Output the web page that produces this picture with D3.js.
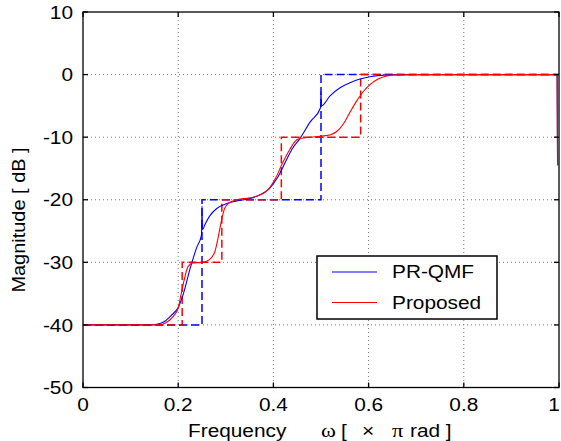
<!DOCTYPE html>
<html>
<head>
<meta charset="utf-8">
<script src="https://cdn.jsdelivr.net/npm/d3@7"></script>
<style>
  body { margin: 0; background: #fff; }
  text { font-family: "Liberation Sans", Arial, sans-serif; fill: #000; }
</style>
</head>
<body>
<svg id="chart" width="561" height="441"></svg>
<script>
// tick values / labels
const xTicks = [0, 0.2, 0.4, 0.6, 0.8, 1];
const xTickLabels = ["0", "0.2", "0.4", "0.6", "0.8", "1"];
const yTicks = [10, 0, -10, -20, -30, -40, -50];
const seriesNames = ["PR-QMF", "Proposed"];

// PR-QMF magnitude response
const qmfFreq = [0, 0.14, 0.155, 0.17, 0.185, 0.2, 0.211, 0.225, 0.239, 0.249, 0.25, 0.251,
  0.256, 0.267, 0.281, 0.302, 0.323, 0.351, 0.372, 0.393, 0.41, 0.425, 0.44, 0.456, 0.477,
  0.499, 0.5, 0.501, 0.519, 0.54, 0.561, 0.582, 0.603, 0.625, 0.65, 0.7, 0.996, 0.997];
const qmfMag = [-40, -40, -39.9, -39.5, -38.5, -37.2, -35, -31, -27.6, -25.6, -21, -24.8,
  -24, -22.5, -21.4, -20.6, -20.2, -19.8, -19.2, -18.1, -16.3, -14, -11.8, -10.2, -7.6,
  -5.3, -2.7, -5.0, -3.4, -2.1, -1.3, -0.7, -0.35, -0.12, -0.02, 0, 0, -14.5];

// Proposed magnitude response
const propFreq = [0, 0.16, 0.175, 0.19, 0.2, 0.205, 0.212, 0.22, 0.23, 0.25, 0.265, 0.277,
  0.284, 0.291, 0.298, 0.309, 0.323, 0.35, 0.37, 0.39, 0.405, 0.42, 0.435, 0.445, 0.455,
  0.48, 0.505, 0.52, 0.533, 0.547, 0.561, 0.575, 0.589, 0.603, 0.62, 0.64, 0.66, 0.7, 0.996, 0.997];
const propMag = [-40, -40, -39.6, -38.6, -37.3, -35.5, -33, -30.8, -30.1, -30, -29.6, -28.3,
  -26, -23.3, -21.3, -20.4, -20, -19.7, -19.3, -18.3, -16.5, -14, -11.9, -10.7, -10.2,
  -10, -9.8, -9.6, -9.1, -7.9, -6, -4.2, -2.7, -1.6, -0.7, -0.2, -0.04, 0, 0, -14.5];

// ideal (staircase) specs, dashed
const qmfSpecFreq = [0, 0.25, 0.25, 0.5, 0.5, 1];
const qmfSpecMag = [-40, -40, -20, -20, 0, 0];
const propSpecFreq = [0, 5/24, 5/24, 7/24, 7/24, 10/24, 10/24, 14/24, 14/24, 1];
const propSpecMag = [-40, -40, -30, -30, -20, -20, -10, -10, 0, 0];

const svg = d3.select("#chart");
const plotL = 83, plotR = 559, plotT = 12, plotB = 387.5;
const sx = 1.19;   // text in the picture is a bit wide

const x = d3.scaleLinear().domain([0, 1]).range([plotL, plotR]);
const y = d3.scaleLinear().domain([-50, 10]).range([plotB, plotT]);

function zip(a, b) { return a.map((v, i) => [v, b[i]]); }

// grid
const grid = svg.append("g").attr("stroke", "#777").attr("stroke-width", 1)
  .attr("stroke-dasharray", "1,3");
grid.selectAll("line.gx").data(xTicks.slice(1, -1)).enter().append("line")
  .attr("x1", d => x(d)).attr("x2", d => x(d)).attr("y1", plotT).attr("y2", plotB);
grid.selectAll("line.gy").data(yTicks.slice(1, -1)).enter().append("line")
  .attr("y1", d => y(d)).attr("y2", d => y(d)).attr("x1", plotL).attr("x2", plotR);

const plot = svg.append("g");
const lineLin = d3.line().x(d => x(d[0])).y(d => y(d[1]));
const lineSmooth = d3.line().x(d => x(d[0])).y(d => y(d[1])).curve(d3.curveMonotoneX);

plot.append("path").datum(zip(qmfSpecFreq, qmfSpecMag)).attr("d", lineLin)
  .attr("fill", "none").attr("stroke", "#0000ff").attr("stroke-width", 1.5)
  .attr("stroke-dasharray", "8,4");
plot.append("path").datum(zip(propSpecFreq, propSpecMag)).attr("d", lineLin)
  .attr("fill", "none").attr("stroke", "#ff0000").attr("stroke-width", 1.5)
  .attr("stroke-dasharray", "8,4");
plot.append("path").datum(zip(qmfFreq, qmfMag)).attr("d", lineSmooth)
  .attr("fill", "none").attr("stroke", "#0000ff").attr("stroke-width", 1.1);
plot.append("path").datum(zip(propFreq, propMag)).attr("d", lineSmooth)
  .attr("fill", "none").attr("stroke", "#ff0000").attr("stroke-width", 1.1);

// frame + inward ticks on all sides
const axes = svg.append("g").attr("stroke", "#000").attr("stroke-width", 1.3);
axes.append("rect").attr("x", plotL).attr("y", plotT)
  .attr("width", plotR - plotL).attr("height", plotB - plotT).attr("fill", "none");
xTicks.forEach(t => {
  axes.append("line").attr("x1", x(t)).attr("x2", x(t)).attr("y1", plotB).attr("y2", plotB - 5);
  axes.append("line").attr("x1", x(t)).attr("x2", x(t)).attr("y1", plotT).attr("y2", plotT + 5);
});
yTicks.forEach(t => {
  axes.append("line").attr("y1", y(t)).attr("y2", y(t)).attr("x1", plotL).attr("x2", plotL + 5);
  axes.append("line").attr("y1", y(t)).attr("y2", y(t)).attr("x1", plotR).attr("x2", plotR - 5);
});

function label(px, py, str, anchor, opts) {
  opts = opts || {};
  const g = svg.append("g")
    .attr("transform", `translate(${px},${py})` + (opts.rotate ? ` rotate(${opts.rotate})` : "") + ` scale(${opts.sx || sx},1)`);
  const t = g.append("text").attr("text-anchor", anchor)
    .style("font-size", (opts.size || 17.5) + "px").text(str);
  if (opts.family) t.style("font-family", opts.family);
  if (opts.dy) t.attr("dy", opts.dy);
  return t;
}

// tick labels (the last one sits at the window edge, as in the original)
xTicks.forEach((t, i) => {
  const px = i === xTicks.length - 1 ? Math.min(x(t), 554) : x(t);
  label(px, 410.5, xTickLabels[i], "middle");
});
yTicks.forEach(t => label(73, y(t), String(t), "end", { dy: "0.38em" }));

// axis titles
label(25, 220, "Magnitude [ dB ]", "middle", { rotate: -90, sx: 1.14 });
label(188, 437, "Frequency", "start");
label(321, 437, "\u03c9", "start", { family: "'Liberation Serif', 'DejaVu Serif', serif", size: 19 });
label(341, 437, "[", "start");
label(362, 437, "\u00d7", "start");
label(392, 437, "\u03c0", "start", { family: "'Liberation Serif', 'DejaVu Serif', serif", size: 19 });
label(410, 437, "rad ]", "start");

// legend
const legend = svg.append("g");
legend.append("rect").attr("x", 317).attr("y", 256).attr("width", 180).attr("height", 63)
  .attr("fill", "#fff").attr("stroke", "#000").attr("stroke-width", 1.5);
const legendColors = ["#0000ff", "#ff0000"];
seriesNames.forEach((name, i) => {
  const ly = 272 + i * 30.5;
  legend.append("line").attr("x1", 332).attr("x2", 377).attr("y1", ly).attr("y2", ly)
    .attr("stroke", legendColors[i]).attr("stroke-width", 1.1);
  label(392, ly, name, "start", { dy: "0.36em" });
});
</script>
</body>
</html>
